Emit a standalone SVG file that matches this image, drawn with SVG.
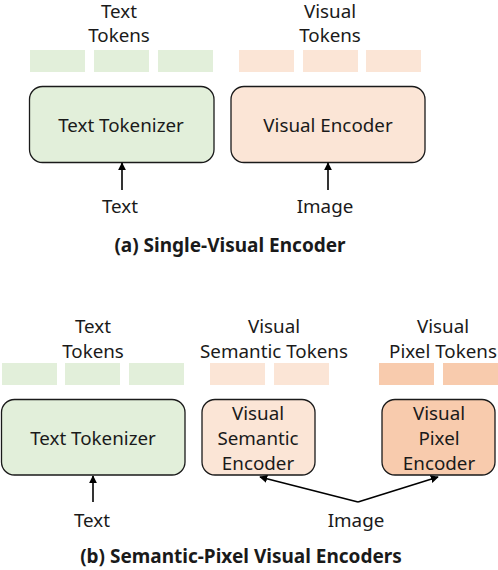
<svg xmlns="http://www.w3.org/2000/svg" width="498" height="570" viewBox="0 0 498 570">
<style>
text{font-family:"Noto Sans","Open Sans","DejaVu Sans",sans-serif;font-size:18.8px;fill:#1a1a1a;text-anchor:middle}
.cap{font-weight:bold;font-size:19px}
.box{stroke:#1a1a1a;stroke-width:1.3}
.g{fill:#e2efda}
.o{fill:#fbe5d6}
.p{fill:#f8cbad}
.arr{stroke:#000;stroke-width:1.6;fill:none;marker-end:url(#ah)}
</style>
<defs>
<marker id="ah" viewBox="0 0 10 10" refX="9" refY="5" markerWidth="5" markerHeight="5" orient="auto">
<path d="M0,0 L10,5 L0,10 z" fill="#000"/>
</marker>
</defs>
<rect width="498" height="570" fill="#fff"/>

<g id="a-text-tokens">
<text x="119" y="18">Text</text>
<text x="119" y="42">Tokens</text>
<rect class="g" x="30" y="50" width="55" height="22"/>
<rect class="g" x="94" y="50" width="55" height="22"/>
<rect class="g" x="158" y="50" width="55" height="22"/>
</g>
<g id="a-visual-tokens">
<text x="330" y="18">Visual</text>
<text x="330" y="42">Tokens</text>
<rect class="o" x="239" y="50" width="55" height="22"/>
<rect class="o" x="303" y="50" width="55" height="22"/>
<rect class="o" x="366" y="50" width="55" height="22"/>
</g>
<g id="a-text-tokenizer">
<rect class="box g" x="29.5" y="86.5" width="184.5" height="76" rx="13"/>
<text x="121" y="132">Text Tokenizer</text>
</g>
<g id="a-visual-encoder">
<rect class="box o" x="231" y="86.5" width="194" height="76" rx="13"/>
<text x="328" y="132">Visual Encoder</text>
</g>
<g id="a-text-in"><text x="120" y="213">Text</text></g>
<g id="a-image-in"><text x="325" y="213">Image</text></g>
<g id="a-caption"><text class="cap" x="230" y="252">(a) Single-Visual Encoder</text></g>

<g id="b-text-tokens">
<text x="93" y="333">Text</text>
<text x="93" y="358">Tokens</text>
<rect class="g" x="2" y="363" width="55" height="22"/>
<rect class="g" x="65" y="363" width="55" height="22"/>
<rect class="g" x="129" y="363" width="55" height="22"/>
</g>
<g id="b-semantic-tokens">
<text x="274" y="333">Visual</text>
<text x="274" y="358">Semantic Tokens</text>
<rect class="o" x="210" y="363" width="55" height="22"/>
<rect class="o" x="274" y="363" width="55" height="22"/>
</g>
<g id="b-pixel-tokens">
<text x="443" y="333">Visual</text>
<text x="443" y="358">Pixel Tokens</text>
<rect class="p" x="379" y="363" width="55" height="22"/>
<rect class="p" x="443" y="363" width="55" height="22"/>
</g>
<g id="b-text-tokenizer">
<rect class="box g" x="1.5" y="399.5" width="183.5" height="75.5" rx="13"/>
<text x="93" y="445">Text Tokenizer</text>
</g>
<g id="b-semantic-encoder">
<rect class="box o" x="202" y="399.5" width="113" height="75.5" rx="13"/>
<text x="258" y="420">Visual</text>
<text x="258" y="445">Semantic</text>
<text x="258" y="470">Encoder</text>
</g>
<g id="b-pixel-encoder">
<rect class="box p" x="382" y="399.5" width="113" height="75.5" rx="13"/>
<text x="439" y="420">Visual</text>
<text x="439" y="445">Pixel</text>
<text x="439" y="470">Encoder</text>
</g>
<g id="b-text-in"><text x="92" y="527">Text</text></g>
<g id="b-image-in"><text x="356" y="527">Image</text></g>
<g id="b-caption"><text class="cap" x="241" y="563">(b) Semantic-Pixel Visual Encoders</text></g>

<g id="connectors">
<line class="arr" x1="122" y1="190" x2="122" y2="163"/>
<line class="arr" x1="328" y1="190" x2="328" y2="163"/>
<line class="arr" x1="93" y1="502" x2="93" y2="476"/>
<polyline class="arr" points="358,502 260,477"/>
<polyline class="arr" points="358,502 438,477"/>
</g>
</svg>
